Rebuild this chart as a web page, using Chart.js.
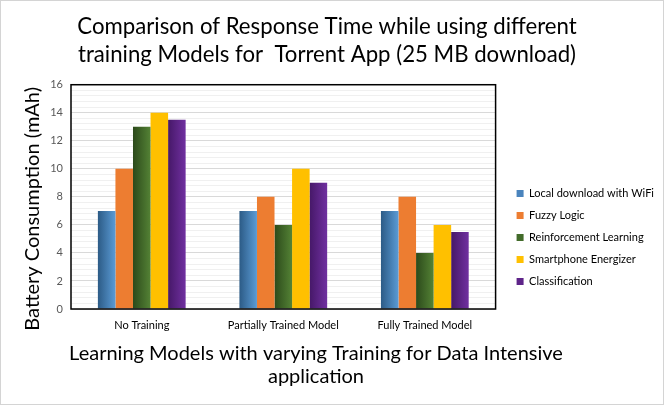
<!DOCTYPE html>
<html>
<head>
<meta charset="utf-8">
<script src="https://cdn.jsdelivr.net/npm/chart.js@4/dist/chart.umd.min.js"></script>
<style>
  html, body { margin: 0; padding: 0; background: #fff; }
  #wrap { width: 664px; height: 405px; position: relative; }
</style>
</head>
<body>
<div id="wrap"><canvas id="c" width="664" height="405"></canvas></div>
<script>
// ---- data ----
const categories = ["No Training", "Partially Trained Model", "Fully Trained Model"];
const seriesNames = ["Local download with WiFi", "Fuzzy Logic", "Reinforcement Learning", "Smartphone Energizer", "Classification"];
const wifiValues = [7, 7, 7];
const fuzzyValues = [10, 8, 8];
const reinforcementValues = [13, 6, 4];
const energizerValues = [14, 10, 6];
const classificationValues = [13.5, 9, 5.5];
const yTickLabels = [0, 2, 4, 6, 8, 10, 12, 14, 16];

const titleLines = ["Comparison of Response Time while using different", "training Models for  Torrent App (25 MB download)"];
const xTitleLines = ["Learning Models with varying Training for Data Intensive", "application"];
const yTitle = "Battery Consumption (mAh)";

// ---- styles ----
const FONT = "Lato, 'Open Sans', sans-serif";
const CAT_PCT = 0.62;
const darkColors  = ["#2c5b86", "#ed7d31", "#2c4a1b", "#ffc000", "#461868"];
const lightColors = ["#5b9bd5", "#ed7d31", "#548235", "#ffc000", "#7030a0"];
const legendColors = ["#4a84bd", "#ed7d31", "#426b2a", "#ffc000", "#5e2489"];
const allValues = [wifiValues, fuzzyValues, reinforcementValues, energizerValues, classificationValues];

function barFill(i) {
  return function (ctx) {
    const chart = ctx.chart;
    const xs = chart.scales && chart.scales.x;
    if (!xs || ctx.dataIndex === undefined || darkColors[i] === lightColors[i]) return lightColors[i];
    const catW = (xs.right - xs.left) / categories.length;
    const groupW = catW * CAT_PCT;
    const barW = groupW / allValues.length;
    const center = xs.getPixelForValue(ctx.dataIndex);
    const x0 = center - groupW / 2 + ctx.datasetIndex * barW;
    if (!isFinite(x0) || !isFinite(barW) || barW <= 0) return lightColors[i];
    const g = chart.ctx.createLinearGradient(x0, 0, x0 + barW, 0);
    g.addColorStop(0, darkColors[i]);
    g.addColorStop(1, lightColors[i]);
    return g;
  };
}

const datasets = allValues.map((vals, i) => ({
  label: seriesNames[i],
  data: vals,
  backgroundColor: barFill(i),
  borderWidth: 0,
  categoryPercentage: CAT_PCT,
  barPercentage: 1.0
}));

function isMajor(v) {
  return Math.abs(v / 2 - Math.round(v / 2)) < 1e-6;
}

const LEGEND_GAP = 21;   // gap between plot frame and legend swatches
const LEGEND_LIFT = 11;  // legend sits a little above the bottom of the plot

const framePlugin = {
  id: 'frame',
  afterLayout(chart) {
    const L = chart.legend;
    if (!L) return;
    const pad = L.options.labels.padding;
    const dx = (chart.chartArea.right + LEGEND_GAP) - (L.left + pad);
    L.left += dx; L.right += dx;
    L.top -= LEGEND_LIFT; L.bottom -= LEGEND_LIFT;
  },
  beforeDraw(chart) {
    const c = chart.ctx;
    c.save();
    c.fillStyle = '#ffffff';
    c.fillRect(0, 0, chart.width, chart.height);
    c.restore();
  },
  afterDatasetsDraw(chart) {
    const a = chart.chartArea;
    const c = chart.ctx;
    c.save();
    c.strokeStyle = '#000000';
    c.lineWidth = 1.5;
    c.strokeRect(a.left, a.top, a.right - a.left, a.bottom - a.top);
    c.restore();
  },
  afterDraw(chart) {
    const c = chart.ctx;
    const a = chart.chartArea;
    c.save();
    c.strokeStyle = '#d4d4d4';
    c.lineWidth = 1;
    c.strokeRect(0.5, 0.5, chart.width - 1, chart.height - 1);
    c.fillStyle = '#000';
    c.font = "20px " + FONT;
    c.textAlign = 'center';
    c.textBaseline = 'middle';
    // x axis title (Excel places it slightly right of the plot centre)
    const cx = chart.width / 2 - 16;
    xTitleLines.forEach((t, k) => c.fillText(t, cx, a.bottom + 45 + k * 23));
    // y axis title
    c.translate(33, (a.top + a.bottom) / 2 + 12);
    c.rotate(-Math.PI / 2);
    c.fillText(yTitle, 0, 0);
    c.restore();
  }
};

new Chart(document.getElementById('c'), {
  type: 'bar',
  data: { labels: categories, datasets },
  plugins: [framePlugin],
  options: {
    responsive: false,
    animation: false,
    layout: { padding: { left: 0, right: 10, top: 0, bottom: 0 } },
    plugins: {
      title: {
        display: true,
        text: titleLines,
        color: '#000',
        font: { family: FONT, size: 22.2, weight: 'normal', lineHeight: 1.3 },
        padding: { top: 12, bottom: 15 }
      },
      legend: {
        position: 'right',
        align: 'end',
        fullSize: false,
        labels: {
          boxWidth: 7,
          boxHeight: 7,
          padding: 11,
          color: '#000',
          font: { family: FONT, size: 11 },
          generateLabels(chart) {
            const items = Chart.defaults.plugins.legend.labels.generateLabels(chart);
            items.forEach((it, i) => { it.fillStyle = legendColors[i]; it.strokeStyle = legendColors[i]; it.lineWidth = 0; });
            return items;
          }
        }
      },
      tooltip: { enabled: false }
    },
    scales: {
      x: {
        grid: { display: false, drawTicks: false },
        border: { display: false },
        ticks: { color: '#000', font: { family: FONT, size: 11 }, padding: 10 },
        afterFit(s) { s.height = 96; }
      },
      y: {
        min: 0,
        max: 16,
        grid: {
          drawTicks: false,
          color: (ctx) => (ctx.tick && isMajor(ctx.tick.value)) ? '#d9d9d9' : '#f0f0f0',
          lineWidth: 1
        },
        border: { display: false },
        ticks: {
          stepSize: 0.4,
          autoSkip: false,
          color: '#595959',
          font: { family: FONT, size: 11 },
          padding: 8,
          callback: (v) => {
            const r = Math.round(v);
            return (isMajor(v) && yTickLabels.includes(r)) ? String(r) : '';
          }
        },
        afterFit(s) { s.width = 71; }
      }
    }
  }
});
</script>
</body>
</html>
